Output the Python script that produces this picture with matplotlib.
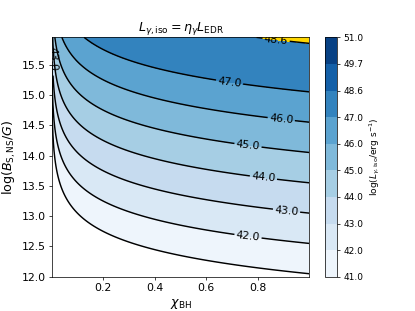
import numpy as np
import matplotlib
matplotlib.use('Agg')
import matplotlib.pyplot as plt

# 軸のグリッド
chi_bh = np.arange(0.001, 1.0, 0.002)
log_b = np.arange(12.0, 16.0, 0.05)

# L ∝ chi^2 B^2 (図から読み取った規格化定数)
log_norm = 16.9
levels = [41.0, 42.0, 43.0, 44.0, 45.0, 46.0, 47.0, 48.6, 49.7, 51.0]
line_levels = [41.0, 42.0, 43.0, 44.0, 45.0, 46.0, 47.0, 48.6]
label_pos = [(0.003, 15.6), (0.76, 12.58), (0.91, 13.02), (0.82, 13.55),
             (0.76, 14.08), (0.89, 14.56), (0.69, 15.2), (0.87, 15.86)]

X, Y = np.meshgrid(chi_bh, log_b)
Z = 2 * Y + 2 * np.log10(X) + log_norm

dpi = 65
fig, ax = plt.subplots(figsize=(415 / dpi, 311 / dpi), dpi=dpi)

cf = ax.contourf(X, Y, Z, levels=levels, cmap='Blues')
ax.contourf(X, Y, Z, levels=[48.6, 60], colors=['gold'])
cs = ax.contour(X, Y, Z, levels=line_levels, colors='k', linewidths=1.6)
ax.clabel(cs, fmt='%.1f', fontsize=12, manual=label_pos)

ax.set_yticks([12.0, 12.5, 13.0, 13.5, 14.0, 14.5, 15.0, 15.5])
ax.set_xticks([0.2, 0.4, 0.6, 0.8])
ax.tick_params(labelsize=12)
ax.set_xlabel(r'$\chi_{\rm BH}$', fontsize=14)
ax.set_ylabel(r'$\log(B_{\rm S,NS}/G)$', fontsize=14)
ax.set_title(r'$L_{\gamma,\rm iso}=\eta_\gamma L_{\rm EDR}$', fontsize=14)

cb = fig.colorbar(cf)
cb.set_ticks(levels)
cb.ax.tick_params(labelsize=10)
cb.set_label(r'$\log(L_{\gamma,\rm iso}/{\rm erg\ s^{-1}})$', fontsize=10)

plt.savefig('out.png', dpi=dpi)
